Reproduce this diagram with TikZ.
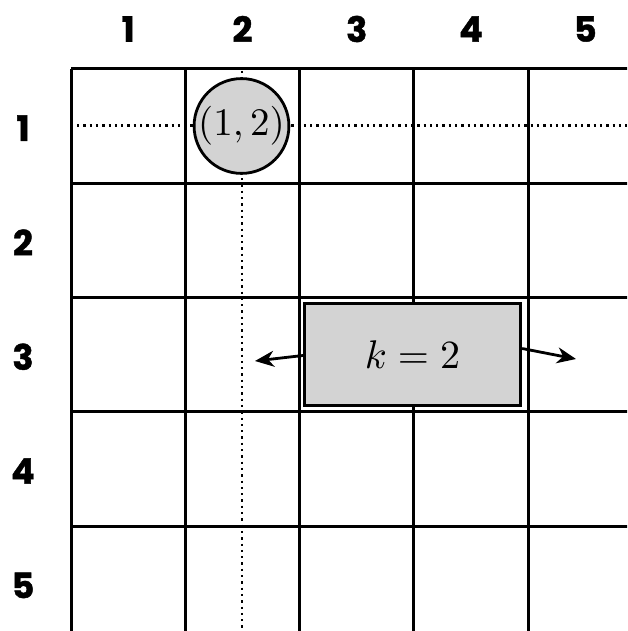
\documentclass[tikz,border=0pt]{standalone}
\usepackage{fontspec}
\usepackage{graphicx}
\newfontfamily\labfont{Poppins}[BoldFeatures={FakeBold=1.2}]
\usetikzlibrary{arrows.meta}
\definecolor{boxgray}{RGB}{211,211,211}
\tikzset{
  gridline/.style={line width=3pt, black},
  dotline/.style={line width=2.3pt, dash pattern=on 2.3pt off 4pt},
  lab/.style={font=\labfont\bfseries\fontsize{35}{37}\selectfont, inner sep=0pt},
  arr/.style={line width=2.8pt, -{Stealth[length=19pt,width=16pt,inset=6pt]}}
}
\begin{document}
\begin{tikzpicture}[x=1pt,y=-1pt]
\useasboundingbox (0,0) rectangle (627,631);
\clip (0,0) rectangle (627,631);
% grid
\foreach \i in {0,...,5} {
  \draw[gridline] ({71+\i*114.3},69) -- ({71+\i*114.3},700);
  \draw[gridline] (71,{69+\i*114.3}) -- (700,{69+\i*114.3});
}
% labels
\foreach \i in {1,...,5} {
  \node[lab] (c\i) at ({71+(\i-0.5)*114.3},29) {\i};
  \node[lab] (r\i) at (23,{69+(\i-0.5)*114.3+2}) {\i};
}
% dotted lines
\coordinate (hs) at (77,125.5);
\coordinate (he) at (640,125.5);
\coordinate (vs) at (242,71);
\coordinate (ve) at (242,640);
\draw[dotline] (hs) -- (he);
\draw[dotline] (vs) -- (ve);
% circle
\node[circle, draw, line width=2.8pt, fill=boxgray, minimum size=86pt, inner sep=0pt] (p) at (241.5,126) {\scalebox{3.9}{$(1,2)$}};
% rectangle
\node[draw, line width=3.2pt, fill=boxgray, minimum width=216pt, minimum height=102pt, inner sep=0pt] (k) at (412.5,354.5) {\scalebox{4}{$k=2$}};
\coordinate (lt) at (255,361);
\coordinate (rt) at (576,359);
\draw[arr] ([yshift=-1pt]k.west) -- (lt);
\draw[arr] ([yshift=6pt]k.east) -- (rt);
\end{tikzpicture}
\end{document}
